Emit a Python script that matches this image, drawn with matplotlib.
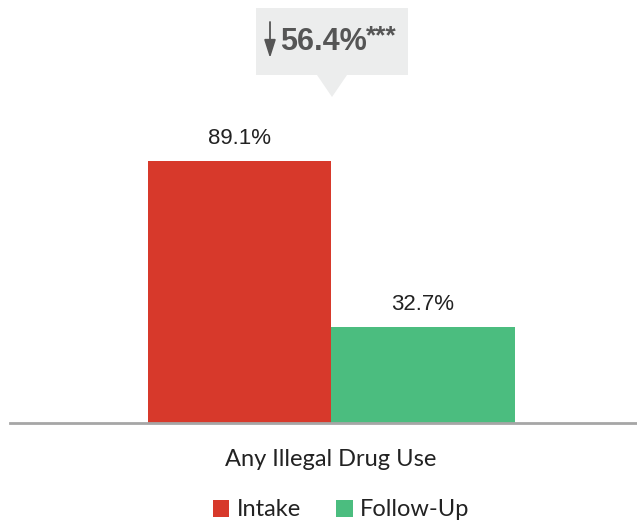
import matplotlib.pyplot as plt
from matplotlib.patches import Polygon, Rectangle, FancyArrowPatch

category = "Any Illegal Drug Use"
groups = ["Intake", "Follow-Up"]
values = [89.1, 32.7]
change_label = "56.4%"
significance = "***"
colors = ["#D7392B", "#4BBD7F"]

W, H = 637, 522
fig = plt.figure(figsize=(W / 100, H / 100), dpi=100)
ax = fig.add_axes([10 / W, 1 - 423 / H, 627 / W, 423 / H])

positions = [0, 1]
bars = ax.bar(positions, values, width=1.0, color=colors, label=groups)
ax.set_xlim(-1.25, 2.166)
ax.set_ylim(0, 143.9)

for b, v in zip(bars, values):
    ax.text(b.get_x() + b.get_width() / 2, v + 4, f"{v}%", ha="center", va="bottom",
            fontsize=16, color="#222222", family="Liberation Sans")

for s in ["top", "right", "left"]:
    ax.spines[s].set_visible(False)
ax.spines["bottom"].set_color("#A6A6A6")
ax.spines["bottom"].set_linewidth(2)
ax.set_yticks([])
ax.set_xticks([])

fig.text(331 / W, 1 - 460 / H, category, ha="center", va="center",
         fontsize=17, color="#222222", family="Lato")

# callout above the two bars
def fx(px):
    return px / W

def fy(py):
    return 1 - py / H

box = Rectangle((fx(256), fy(75)), fx(408) - fx(256), fy(8) - fy(75),
                transform=fig.transFigure, color="#ECEDED", lw=0, zorder=1)
tri = Polygon([(fx(317), fy(75)), (fx(347), fy(75)), (fx(332), fy(97))],
              closed=True, transform=fig.transFigure, color="#ECEDED", lw=0, zorder=1)
fig.add_artist(box)
fig.add_artist(tri)

# thin down arrow before the change value
arrow = FancyArrowPatch((fx(270), fy(22)), (fx(270), fy(58)),
                        transform=fig.transFigure, mutation_scale=10,
                        arrowstyle="-|>,head_length=1.1,head_width=0.35",
                        color="#555555", lw=1.3, shrinkA=0, shrinkB=0, zorder=3)
fig.add_artist(arrow)
fig.text(fx(280), fy(42), change_label, ha="left", va="center", fontsize=22,
         fontweight="bold", color="#555555", family="Liberation Sans", zorder=3)
fig.text(fx(366), fy(36), significance, ha="left", va="center", fontsize=19,
         fontweight="bold", color="#555555", family="Liberation Sans", zorder=3)

leg = fig.legend(handles=list(bars), labels=groups, loc="center",
                 bbox_to_anchor=(fx(341), fy(510)), ncol=2, frameon=False,
                 prop={"family": "Lato", "size": 17}, handlelength=0.7,
                 handleheight=0.7, handletextpad=0.3, columnspacing=1.5)
for t in leg.get_texts():
    t.set_color("#222222")

fig.savefig("out.png", dpi=100)
